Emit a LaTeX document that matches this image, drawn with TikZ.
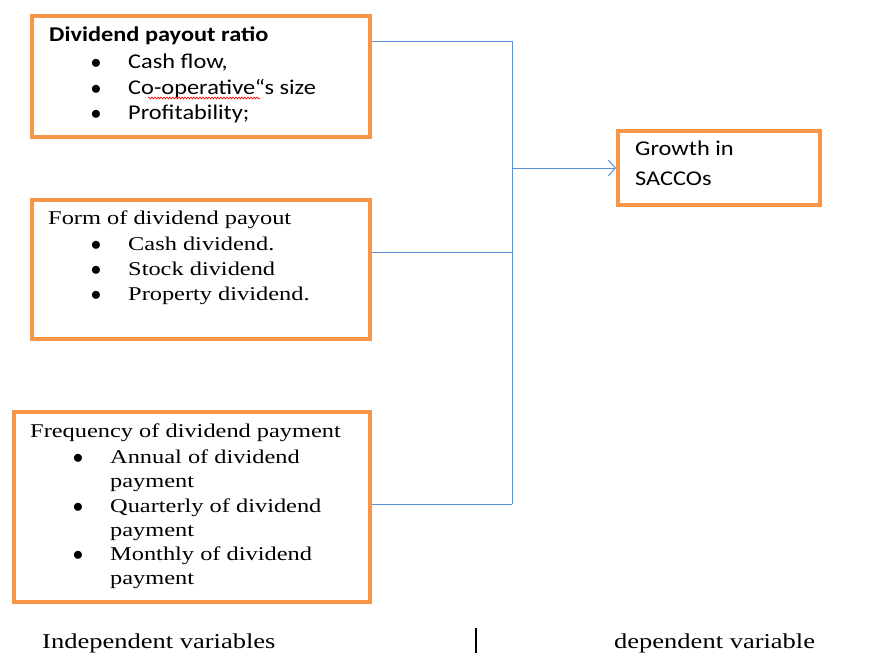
\documentclass[tikz,border=0pt]{standalone}
\usepackage{fontspec}
\setmainfont{Liberation Serif}[FakeStretch=1.25]
\newfontfamily\calfont{Carlito}[FakeStretch=1.16]
\usetikzlibrary{arrows.meta,decorations.pathmorphing}
\definecolor{boxorange}{HTML}{F79646}
\definecolor{linkblue}{HTML}{5B8ED6}
\tikzset{
  frame/.style={draw=boxorange,line width=4pt,anchor=north west,inner sep=0pt},
  txt/.style={anchor=base west,inner sep=0pt},
  calt/.style={txt,font=\calfont\fontsize{21}{24}\selectfont},
  tnrt/.style={txt,font=\fontsize{19.5}{24}\selectfont},
  lbl/.style={txt,font=\fontsize{21.2}{24}\selectfont},
  blt/.style={anchor=base,inner sep=0pt,font=\fontsize{21}{21}\selectfont},
  link/.style={draw=linkblue,line width=1pt},
}
\begin{document}
\begin{tikzpicture}[x=1pt,y=-1pt]
\useasboundingbox (0,0) rectangle (877,653);
% boxes
\node[frame,minimum width=338pt,minimum height=121pt] (b1) at (30,14) {};
\node[frame,minimum width=338pt,minimum height=139pt] (b2) at (30,198) {};
\node[frame,minimum width=356pt,minimum height=190pt] (b3) at (12,410) {};
\node[frame,minimum width=202pt,minimum height=74pt] (b4) at (616,129) {};
% box 1 text
\node[calt,font=\calfont\bfseries\fontsize{21}{24}\selectfont] (t1) at (49,41) {Dividend payout ratio};
\node[blt] (d11) at (96,68) {$\bullet$};
\node[calt] (t11) at (128,68) {Cash flow,};
\node[blt] (d12) at (96,94) {$\bullet$};
\node[calt] (t12) at (128,94) {Co-operative“s size};
\node[blt] (d13) at (96,119) {$\bullet$};
\node[calt] (t13) at (128,119) {Profitability;};
\coordinate (w1) at (148,98);
\coordinate (w2) at (260,98);
\draw[red,line width=0.6pt,decorate,decoration={snake,amplitude=1pt,segment length=3pt}] (w1) -- (w2);
% box 2 text
\node[tnrt] (t2) at (48,224) {Form of dividend payout};
\node[blt] (d21) at (96,250) {$\bullet$};
\node[tnrt] (t21) at (128,250) {Cash dividend.};
\node[blt] (d22) at (96,275) {$\bullet$};
\node[tnrt] (t22) at (128,275) {Stock dividend};
\node[blt] (d23) at (96,300) {$\bullet$};
\node[tnrt] (t23) at (128,300) {Property dividend.};
% box 3 text
\node[tnrt] (t3) at (30,437) {Frequency of dividend payment};
\node[blt] (d31) at (78,463) {$\bullet$};
\node[tnrt] (t31) at (110,463) {Annual of dividend};
\node[tnrt] (t31b) at (110,487) {payment};
\node[blt] (d32) at (78,512) {$\bullet$};
\node[tnrt] (t32) at (110,512) {Quarterly of dividend};
\node[tnrt] (t32b) at (110,536) {payment};
\node[blt] (d33) at (78,560) {$\bullet$};
\node[tnrt] (t33) at (110,560) {Monthly of dividend};
\node[tnrt] (t33b) at (110,584) {payment};
% box 4 text
\node[calt] (t4) at (635,155) {Growth in};
\node[calt] (t4b) at (635,185) {SACCOs};
% connectors
\coordinate (j1) at (512,41);
\coordinate (j2) at (512,252);
\coordinate (j3) at (512,504);
\coordinate (jm) at (512,168);
\draw[link] (b1.east |- j1) -- (j1) -- (j3);
\draw[link] (b2.east |- j2) -- (j2);
\draw[link] (b3.east |- j3) -- (j3);
\draw[link,-{Straight Barb[length=7pt,width=16pt,line width=1pt]}] (jm) -- (b4.west |- jm);
% bottom labels
\node[lbl] (l1) at (42,648) {Independent variables};
\node[lbl] (l2) at (614,648) {dependent variable};
\coordinate (s1) at (476,628);
\coordinate (s2) at (476,653);
\draw[line width=1.2pt] (s1) -- (s2);
\end{tikzpicture}
\end{document}
